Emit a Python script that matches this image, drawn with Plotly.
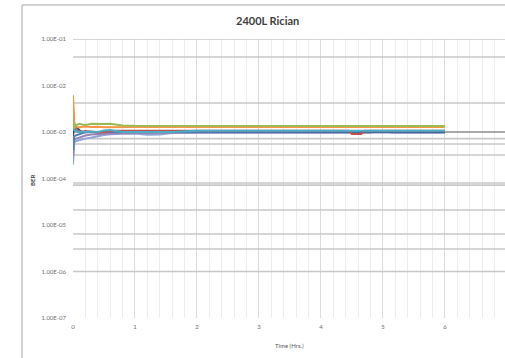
import plotly.graph_objects as go

# ---- data ----
time_hrs = [0, 0.02, 0.05, 0.1, 0.15, 0.2, 0.3, 0.4, 0.5, 0.6, 0.7, 0.8, 1.0,
            1.2, 1.4, 1.6, 2.0, 3.0, 4.0,
            4.45, 4.5, 4.65, 4.7, 4.8, 4.85, 5.1, 5.15, 5.5, 6.0]

ber_lavender = [2.0e-4, 6.0e-4, 6.4e-4, 6.7e-4, 6.9e-4, 7.2e-4, 7.6e-4, 8.2e-4, 8.6e-4, 8.9e-4, 9.1e-4, 9.2e-4, 9.3e-4,
                8.7e-4, 8.8e-4, 9.5e-4, 9.6e-4, 9.6e-4, 9.6e-4,
                9.6e-4, 9.6e-4, 9.6e-4, 9.6e-4, 9.6e-4, 1.0e-3, 1.0e-3, 9.6e-4, 9.6e-4, 9.6e-4]
ber_purple = [3.0e-4, 7.0e-4, 7.2e-4, 7.6e-4, 8.0e-4, 8.4e-4, 8.8e-4, 9.0e-4, 9.2e-4, 9.3e-4, 9.4e-4, 9.4e-4, 9.5e-4,
              9.5e-4, 9.5e-4, 9.6e-4, 9.7e-4, 9.7e-4, 9.7e-4,
              9.7e-4, 9.7e-4, 9.7e-4, 9.7e-4, 9.7e-4, 1.0e-3, 1.0e-3, 9.7e-4, 9.7e-4, 9.7e-4]
ber_navy = [8.0e-4, 1.5e-3, 1.3e-3, 1.1e-3, 1.0e-3, 1.0e-3, 1.0e-3, 1.0e-3, 1.0e-3, 1.0e-3, 1.0e-3, 1.0e-3, 1.0e-3,
            1.0e-3, 1.0e-3, 1.0e-3, 1.0e-3, 1.0e-3, 1.0e-3,
            1.0e-3, 1.0e-3, 1.0e-3, 1.0e-3, 1.0e-3, 1.0e-3, 1.0e-3, 1.0e-3, 1.0e-3, 1.0e-3]
ber_blue = [4.0e-4, 8.0e-4, 8.5e-4, 9.0e-4, 9.5e-4, 9.8e-4, 1.0e-3, 9.8e-4, 1.0e-3, 1.0e-3, 1.01e-3, 1.02e-3, 1.02e-3,
            1.02e-3, 1.02e-3, 1.02e-3, 1.02e-3, 1.02e-3, 1.02e-3,
            1.02e-3, 1.02e-3, 1.02e-3, 1.02e-3, 1.02e-3, 1.02e-3, 1.02e-3, 1.02e-3, 1.02e-3, 1.02e-3]
ber_red = [3.5e-3, 1.3e-3, 1.1e-3, 1.05e-3, 1.0e-3, 1.05e-3, 1.0e-3, 9.8e-4, 1.0e-3, 1.04e-3, 1.06e-3, 1.07e-3, 1.07e-3,
           1.07e-3, 1.07e-3, 1.07e-3, 1.07e-3, 1.07e-3, 1.07e-3,
           1.07e-3, 9.1e-4, 9.1e-4, 1.07e-3, 1.07e-3, 1.07e-3, 1.07e-3, 1.07e-3, 1.07e-3, 1.07e-3]
ber_aqua = [2.0e-3, 1.1e-3, 1.05e-3, 1.0e-3, 1.02e-3, 1.0e-3, 1.03e-3, 1.0e-3, 1.08e-3, 1.1e-3, 1.05e-3, 1.0e-3, 1.0e-3,
            1.0e-3, 1.0e-3, 1.0e-3, 1.07e-3, 1.07e-3, 1.07e-3,
            1.07e-3, 1.07e-3, 1.07e-3, 1.07e-3, 1.07e-3, 1.07e-3, 1.07e-3, 1.07e-3, 1.07e-3, 1.07e-3]
ber_orange = [6.2e-3, 1.6e-3, 1.3e-3, 1.25e-3, 1.3e-3, 1.32e-3, 1.28e-3, 1.3e-3, 1.27e-3, 1.28e-3, 1.29e-3, 1.28e-3, 1.28e-3,
              1.28e-3, 1.28e-3, 1.28e-3, 1.28e-3, 1.28e-3, 1.28e-3,
              1.28e-3, 1.28e-3, 1.28e-3, 1.28e-3, 1.28e-3, 1.28e-3, 1.28e-3, 1.28e-3, 1.28e-3, 1.28e-3]
ber_green = [1.8e-3, 1.2e-3, 1.4e-3, 1.5e-3, 1.45e-3, 1.42e-3, 1.5e-3, 1.52e-3, 1.49e-3, 1.5e-3, 1.42e-3, 1.38e-3, 1.36e-3,
             1.36e-3, 1.36e-3, 1.36e-3, 1.35e-3, 1.35e-3, 1.35e-3,
             1.35e-3, 1.35e-3, 1.35e-3, 1.35e-3, 1.35e-3, 1.35e-3, 1.35e-3, 1.35e-3, 1.35e-3, 1.35e-3]

series = [
    ("S7", ber_lavender, "#8FA3D6"),
    ("S8", ber_purple, "#9983B5"),
    ("S9", ber_navy, "#2C4D75"),
    ("S1", ber_blue, "#4F81BD"),
    ("S2", ber_red, "#C0504D"),
    ("S3", ber_aqua, "#4BACC6"),
    ("S4", ber_orange, "#F79646"),
    ("S5", ber_green, "#9BBB59"),
]

ref_levels = [1e-1, 4.1e-2, 4.2e-3, 7.2e-4, 5.5e-4, 3.2e-4, 8.0e-5, 7.2e-5, 2.1e-5, 6.4e-6, 3.05e-6, 1e-6]
major_level = 1e-3

y_tickvals = [1e-1, 1e-2, 1e-3, 1e-4, 1e-5, 1e-6, 1e-7]
y_ticktext = ["1.00E-01", "1.00E-02", "1.00E-03", "1.00E-04", "1.00E-05", "1.00E-06", "1.00E-07"]
x_tickvals = [0, 1, 2, 3, 4, 5, 6]

fig = go.Figure()

for v in ref_levels:
    fig.add_trace(go.Scatter(x=[0, 7], y=[v, v], mode="lines",
                             line=dict(color="#C8C8C8", width=1.6),
                             hoverinfo="skip", showlegend=False))
fig.add_trace(go.Scatter(x=[0, 7], y=[major_level, major_level], mode="lines",
                         line=dict(color="#8C8C8C", width=1.4),
                         hoverinfo="skip", showlegend=False))

for name, vals, col in series:
    fig.add_trace(go.Scatter(x=time_hrs, y=vals, mode="lines", name=name,
                             line=dict(color=col, width=2), showlegend=False))

fig.update_layout(
    width=505, height=358,
    margin=dict(l=73, r=0, t=39, b=40),
    paper_bgcolor="white", plot_bgcolor="white",
    font=dict(family="Lato", color="#595959"),
    xaxis=dict(range=[0, 6.97], tickvals=x_tickvals, showgrid=True,
               gridcolor="#DCDCDC", gridwidth=1, zeroline=False,
               showline=False, ticks="", ticklabelstandoff=4,
               tickfont=dict(size=6, color="#6E6E6E"),
               minor=dict(dtick=0.2, tick0=0, showgrid=True, gridcolor="#EDEDED", gridwidth=1)),
    yaxis=dict(type="log", range=[-7, -1], tickvals=y_tickvals, ticktext=y_ticktext,
               showgrid=False, zeroline=False, showline=False, ticks="",
               ticklabelstandoff=6, tickfont=dict(size=6, color="#6E6E6E")),
    annotations=[
        dict(text="<b>2400L Rician</b>", xref="paper", yref="paper", x=0.451, y=1.068,
             showarrow=False, font=dict(size=11, color="#404040", family="Lato"),
             xanchor="center", yanchor="middle"),
        dict(text="<b>BER</b>", xref="paper", yref="paper", x=-0.0926, y=0.495,
             showarrow=False, textangle=-90, font=dict(size=6, color="#404040"),
             xanchor="center", yanchor="middle"),
        dict(text="Time (Hrs.)", xref="paper", yref="paper", x=0.5, y=-0.097,
             showarrow=False, font=dict(size=6, color="#595959"),
             xanchor="center", yanchor="middle"),
    ],
    shapes=[
        dict(type="rect", xref="paper", yref="paper", x0=-0.118, x1=1.2, y0=-0.3, y1=1.122,
             line=dict(color="#A6A6A6", width=1), fillcolor="rgba(0,0,0,0)", layer="below"),
    ],
)

fig.write_html("out.html")
